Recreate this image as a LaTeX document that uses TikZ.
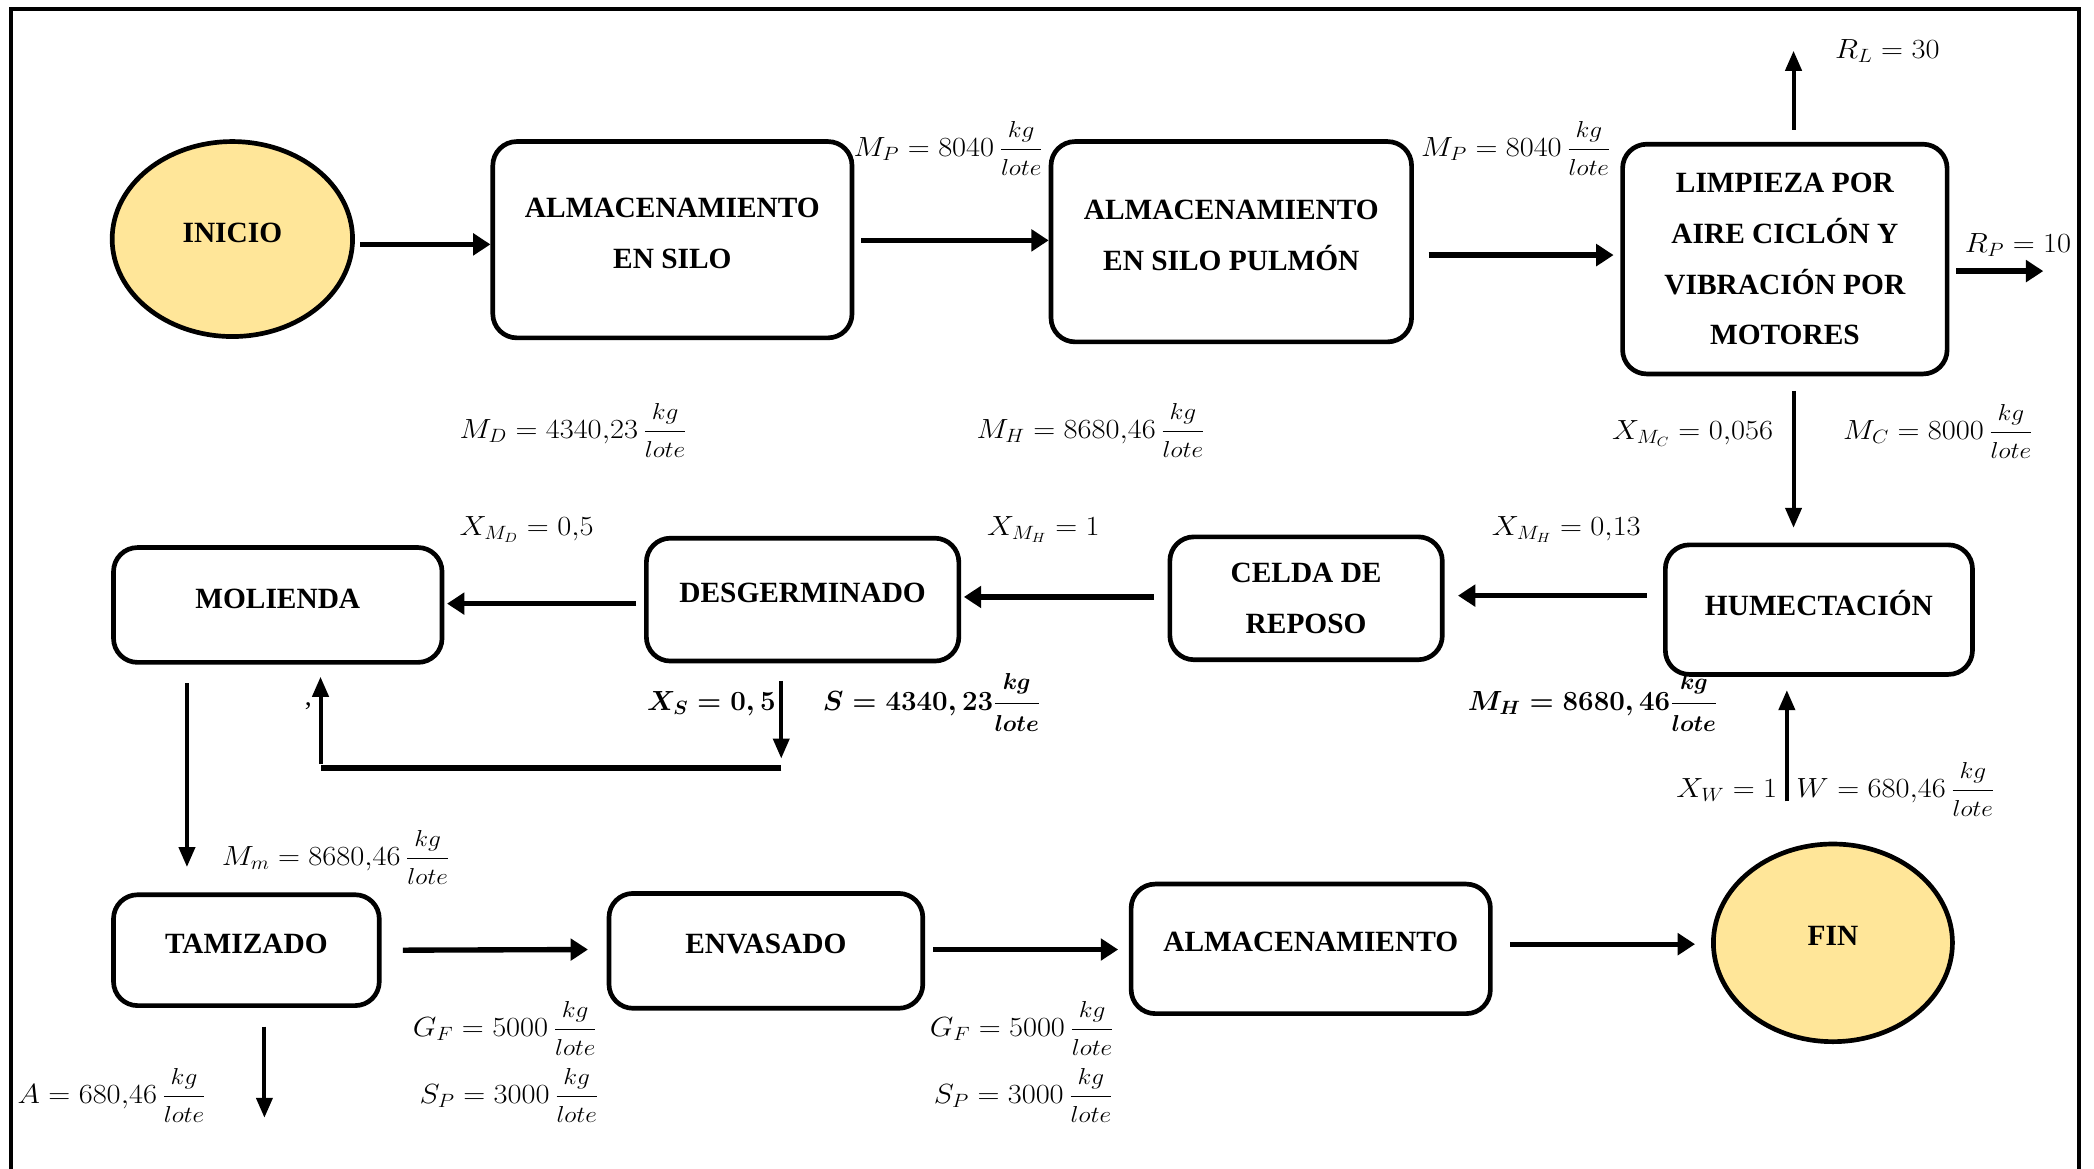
\documentclass[tikz,border=0pt]{standalone}
\usepackage{amsmath}
\usepackage{graphicx}
\usepackage[no-math]{fontspec}
\setmainfont{Liberation Serif}
\DeclareMathSizes{20.74}{20.74}{14.4}{10}
\newcommand{\fsz}[1]{\hbox{\fontsize{17.28}{18}\selectfont$#1$}}
\newcommand{\fr}[2]{\genfrac{}{}{}{0}{\fsz{#1}}{\fsz{#2}}}
\newcommand{\ml}[1]{\scalebox{1.1}[1]{$#1$}}
\usetikzlibrary{shapes.geometric,arrows.meta,calc}
\definecolor{gold}{HTML}{FFE699}
\begin{document}
\begin{tikzpicture}[x=1pt,y=-1pt,
  procbox/.style={draw, line width=3.5pt, rounded corners=18pt, align=center,
    font=\bfseries\fontsize{22}{38}\selectfont, inner sep=0pt, text depth=10pt},
  termnode/.style={draw, ellipse, fill=gold, line width=3.5pt,
    font=\bfseries\fontsize{22}{38}\selectfont, inner sep=0pt, text depth=10pt},
  harr/.style={line width=4pt, -{Triangle[length=13pt,width=16pt]}},
  varr/.style={line width=3pt, -{Triangle[length=15pt,width=12pt]}},
  plainline/.style={line width=4pt},
  lbl/.style={anchor=base west, inner sep=0pt, font=\fontsize{20.74}{26}\selectfont},
  lble/.style={anchor=base east, inner sep=0pt, font=\fontsize{20.74}{26}\selectfont},
  boldlbl/.style={font=\fontsize{20.74}{26}\selectfont\boldmath},
]
\useasboundingbox (0,0) rectangle (1568,875);
% frame
\draw[line width=3pt] (8,875) -- (8,7) -- (1557,7) -- (1557,875);

% nodes
\node[termnode, minimum width=180pt, minimum height=146pt] (inicio) at (174,179) {INICIO};
\node[procbox, minimum width=269pt, minimum height=147pt] (silo) at (503.5,179.5) {ALMACENAMIENTO\\EN SILO};
\node[procbox, minimum width=270pt, minimum height=150pt] (pulmon) at (922,181) {ALMACENAMIENTO\\EN SILO PULMÓN};
\node[procbox, minimum width=243pt, minimum height=172pt, text depth=0pt] (limpieza) at (1336.5,194) {LIMPIEZA POR\\AIRE CICLÓN Y\\VIBRACIÓN POR\\MOTORES};
\node[procbox, minimum width=230pt, minimum height=97pt] (humect) at (1362,456.5) {HUMECTACIÓN};
\node[procbox, minimum width=204pt, minimum height=92pt, text depth=0pt] (celda) at (978,448) {CELDA DE\\REPOSO};
\node[procbox, minimum width=234pt, minimum height=92pt] (desg) at (601,449) {DESGERMINADO};
\node[procbox, minimum width=246pt, minimum height=86pt] (molienda) at (208,453) {MOLIENDA};
\node[procbox, minimum width=199pt, minimum height=83pt] (tamizado) at (184.5,711.5) {TAMIZADO};
\node[procbox, minimum width=235pt, minimum height=86pt] (envasado) at (573.5,712) {ENVASADO};
\node[procbox, minimum width=269pt, minimum height=97pt] (almac) at (981.5,710.5) {ALMACENAMIENTO};
\node[termnode, minimum width=179pt, minimum height=148pt] (fin) at (1372.5,706) {FIN};

% free ends
\coordinate (rl) at (1343,38);
\coordinate (rp) at (1530,203);
\coordinate (wsrc) at (1338,600);
\coordinate (r1) at (585,575);
\coordinate (r2) at (240,575);
\coordinate (aout) at (198,837);

% connectors
\draw[harr] ($(inicio.east)+(4,4)$) -- ($(silo.west)+(0,3.5)$);
\draw[harr] ($(silo.east)+(5,0.5)$) -- ($(pulmon.west)+(0,-1)$);
\draw[harr] ($(pulmon.east)+(11,10)$) -- ($(limpieza.west |- 0,191)+(-5,0)$);
\draw[varr] ($(limpieza.north)+(6.5,-9)$) -- (rl);
\draw[harr] ($(limpieza.east |- rp)+(5,0)$) -- (rp);
\draw[varr] ($(limpieza.south)+(6.5,11)$) -- ($(humect.north)+(-19,-11)$);
\draw[varr] (wsrc) -- ($(humect.south)+(-24,10)$);
\draw[harr] ($(humect.west)+(-12,-10.5)$) -- ($(celda.east)+(10,-2)$);
\draw[harr] ($(celda.west)+(-10,-1)$) -- ($(desg.east)+(2,-2)$);
\draw[harr] ($(desg.west)+(-6,3)$) -- ($(molienda.east)+(2,-1)$);
\draw[varr] ($(desg.south)+(-16,13)$) -- ($(r1)+(0,-7)$);
\draw[plainline] (r1) -- (r2);
\draw[varr] ($(r2)+(0,-3)$) -- ($(molienda.south)+(32,9)$);
\draw[varr] ($(molienda.south)+(-68,14)$) -- ($(tamizado.north)+(-44.5,-19)$);
\draw[varr] ($(tamizado.south)+(13.5,14)$) -- (aout);
\draw[harr] ($(tamizado.east)+(16,0)$) -- ($(envasado.west)+(-14,-1)$);
\draw[harr] ($(envasado.east)+(6,-1)$) -- ($(almac.west)+(-8,0.5)$);
\draw[harr] ($(almac.east)+(13,-3.5)$) -- ($(fin.west)+(-12,1)$);

% labels
\node[lbl] (l1) at (639,117) {\ml{M_P = 8040\,\fr{kg}{lote}}};
\node[lbl] (l2) at (1064,117) {\ml{M_P = 8040\,\fr{kg}{lote}}};
\node[lbl] (l3) at (1374,44) {\ml{R_L = 30}};
\node[lbl] (l4) at (1471,189) {\ml{R_P = 10}};
\node[lbl] (l5) at (1207,329) {\ml{X_{M_C} = 0{,}056}};
\node[lbl] (l6) at (1380,329) {\ml{M_C = 8000\,\fr{kg}{lote}}};
\node[lbl] (l7) at (1117,401) {\ml{X_{M_H} = 0{,}13}};
\node[lbl, boldlbl] (l8) at (1099,532) {$M_H = 8680,46\fr{kg}{lote}$};
\node[lble] (l9) at (1331,597) {\ml{X_W = 1}};
\node[lbl] (l10) at (1345,597) {\ml{W = 680{,}46\,\fr{kg}{lote}}};
\node[lbl] (l11) at (739,401) {\ml{X_{M_H} = 1}};
\node[lbl] (l12) at (731,328) {\ml{M_H = 8680{,}46\,\fr{kg}{lote}}};
\node[lbl] (l13) at (344,401) {\ml{X_{M_D} = 0{,}5}};
\node[lbl] (l14) at (344,328) {\ml{M_D = 4340{,}23\,\fr{kg}{lote}}};
\node[lble, boldlbl] (l15) at (581,532) {$X_S = 0,5$};
\node[lbl, boldlbl] (l16) at (616,532) {$S = 4340,23\fr{kg}{lote}$};
\node[lbl] (l17) at (166,648) {\ml{M_m = 8680{,}46\,\fr{kg}{lote}}};
\node[lbl] (l18) at (13,826) {\ml{A = 680{,}46\,\fr{kg}{lote}}};
\node[lbl] (l19) at (309,776) {\ml{G_F = 5000\,\fr{kg}{lote}}};
\node[lbl] (l20) at (314,826) {\ml{S_P = 3000\,\fr{kg}{lote}}};
\node[lbl] (l21) at (696,776) {\ml{G_F = 5000\,\fr{kg}{lote}}};
\node[lbl] (l22) at (699,826) {\ml{S_P = 3000\,\fr{kg}{lote}}};
\node[lbl] (comma) at (228,528) {,};
\end{tikzpicture}
\end{document}
